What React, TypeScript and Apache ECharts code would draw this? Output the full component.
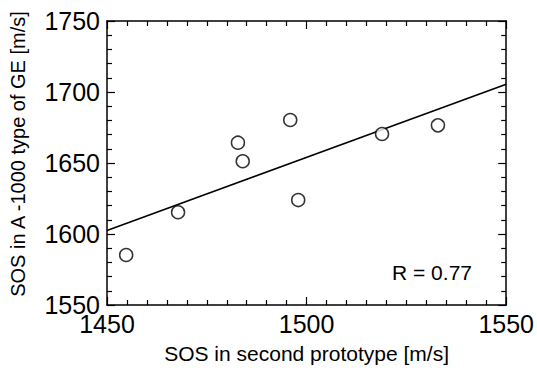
import React, { useEffect, useRef } from "react";
import * as echarts from "echarts";

const sosSecond = [1454.8, 1467.8, 1482.8, 1484.0, 1495.9, 1497.9, 1518.9, 1532.9];
const sosA1000 = [1585.2, 1615.3, 1664.3, 1651.2, 1680.3, 1623.9, 1670.4, 1676.5];
const fitX = [1450, 1550];
const fitY = [1602.5, 1705.5];
const xTicks = [1450, 1500, 1550];
const yTicks = [1550, 1600, 1650, 1700, 1750];
const rLabel = "R = 0.77";

const FONT = "'Liberation Sans', Arial, sans-serif";

export default function App() {
  const ref = useRef<HTMLDivElement>(null);
  useEffect(() => {
    if (!ref.current) return;
    const chart = echarts.init(ref.current, undefined, { renderer: "svg" });
    const axisCommon = {
      axisLine: { show: true, onZero: false, lineStyle: { color: "#000", width: 1.5 } },
      axisTick: { show: true, inside: true, length: 8, lineStyle: { color: "#000", width: 1.2 } },
      minorTick: { show: true, length: 5, lineStyle: { color: "#000", width: 1.2 } },
      splitLine: { show: false },
    };
    const fmt = (v: number) => String(v);
    const xBase = {
      type: "value",
      min: xTicks[0],
      max: xTicks[xTicks.length - 1],
      interval: xTicks[1] - xTicks[0],
      ...axisCommon,
      minorTick: { ...axisCommon.minorTick, splitNumber: 10 },
    };
    const yBase = {
      type: "value",
      min: yTicks[0],
      max: yTicks[yTicks.length - 1],
      interval: yTicks[1] - yTicks[0],
      ...axisCommon,
      minorTick: { ...axisCommon.minorTick, splitNumber: 5 },
    };
    chart.setOption({
      animation: false,
      backgroundColor: "#fff",
      grid: { left: 107, top: 21, right: 30, bottom: 66, containLabel: false },
      xAxis: [
        {
          ...xBase,
          position: "bottom",
          name: "SOS in second prototype [m/s]",
          nameLocation: "middle",
          nameGap: 38,
          nameTextStyle: { color: "#000", fontSize: 21, fontFamily: FONT },
          axisLabel: { color: "#000", fontSize: 25, fontFamily: FONT, margin: 6, formatter: fmt },
        },
        { ...xBase, position: "top", axisLabel: { show: false } },
      ],
      yAxis: [
        {
          ...yBase,
          position: "left",
          axisLabel: { color: "#000", fontSize: 25, fontFamily: FONT, margin: 7, formatter: fmt },
        },
        { ...yBase, position: "right", axisLabel: { show: false } },
      ],
      graphic: [
        {
          type: "text",
          x: 18,
          y: 154,
          rotation: Math.PI / 2,
          style: {
            text: "SOS in A -1000 type of GE [m/s]",
            fill: "#000",
            fontSize: 20,
            fontFamily: FONT,
            align: "center",
            verticalAlign: "middle",
          },
        },
        {
          type: "text",
          x: 432,
          y: 272,
          style: {
            text: rLabel,
            fill: "#000",
            fontSize: 21,
            fontFamily: FONT,
            align: "center",
            verticalAlign: "middle",
          },
        },
      ],
      series: [
        {
          type: "line",
          xAxisIndex: 0,
          yAxisIndex: 0,
          data: fitX.map((x, i) => [x, fitY[i]]),
          showSymbol: false,
          symbol: "none",
          lineStyle: { color: "#000", width: 1.5 },
          silent: true,
        },
        {
          type: "scatter",
          xAxisIndex: 0,
          yAxisIndex: 0,
          data: sosSecond.map((x, i) => [x, sosA1000[i]]),
          symbol: "circle",
          symbolSize: 13,
          itemStyle: { color: "#fff", borderColor: "#000", borderWidth: 1.5 },
          z: 3,
        },
      ],
    });
    return () => chart.dispose();
  }, []);
  return <div ref={ref} style={{ width: 537, height: 371, position: "absolute", left: 0, top: 0 }} />;
}
